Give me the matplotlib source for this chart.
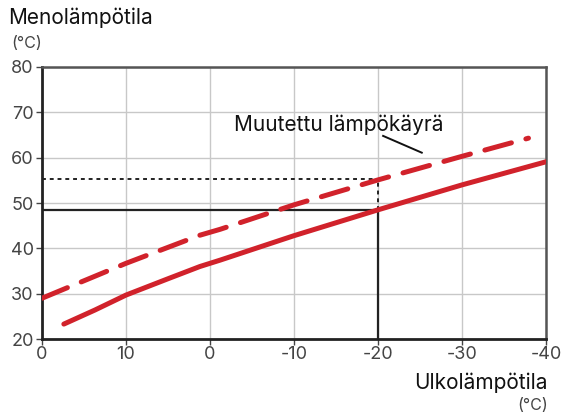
import matplotlib.pyplot as plt

# outdoor temperature (x, reversed) and supply temperature (y)
tick_pos = [20, 10, 0, -10, -20, -30, -40]
tick_labels = ['0', '10', '0', '-10', '-20', '-30', '-40']
y_ticks = [20, 30, 40, 50, 60, 70, 80]

curve_x = [17.4, 13.7, 10, 5, 1.2, -1.2, -10, -20, -30, -40]
curve_y = [23.3, 26.4, 29.7, 33.3, 36.0, 37.4, 42.8, 48.5, 54.0, 59.1]

changed_x = [20, 10, 1.2, -1.2, -10, -20, -30, -37.9]
changed_y = [29.0, 36.7, 42.9, 44.2, 49.6, 55.1, 60.3, 64.3]

sel_x = -20
sel_y = 48.4
sel_y_changed = 55.3

label_line_x = [-20.6, -25.2]
label_line_y = [64.8, 61.1]

RED = '#d1222b'
DARK = '#222222'

plt.rcParams['font.family'] = ['Inter', 'DejaVu Sans']

fig = plt.figure(figsize=(5.63, 4.16), dpi=100)
ax = fig.add_axes([0.0746, 0.185, 0.8954, 0.654])

ax.set_xlim(20, -40)
ax.set_ylim(20, 80)
ax.set_xticks(tick_pos)
ax.set_xticklabels(tick_labels)
ax.set_yticks(y_ticks)
ax.grid(True, color='#c8c8c8', lw=1)
ax.set_axisbelow(True)

for s in ['left', 'bottom']:
    ax.spines[s].set_color(DARK)
    ax.spines[s].set_linewidth(2)
for s in ['top', 'right']:
    ax.spines[s].set_color('#555555')
    ax.spines[s].set_linewidth(1.8)

ax.tick_params(axis='both', labelsize=13, colors='#444444', length=4, width=1, pad=2)
ax.tick_params(axis='x', pad=1)

# selected point guides
ax.plot([20, sel_x], [sel_y, sel_y], color=DARK, lw=1.6)
ax.plot([sel_x, sel_x], [20, sel_y], color=DARK, lw=1.6)
ax.plot([20, sel_x], [sel_y_changed, sel_y_changed], color=DARK, lw=1.4, ls=(0, (2, 2)))
ax.plot([sel_x, sel_x], [sel_y, sel_y_changed], color=DARK, lw=1.4, ls=(0, (2, 2)))

ax.plot(curve_x, curve_y, color=RED, lw=3.6, solid_capstyle='round',
        solid_joinstyle='round', zorder=3)
ax.plot(changed_x, changed_y, color=RED, lw=3.6, ls=(0, (5.5, 3)),
        dash_capstyle='round', zorder=3)

ax.text(-2.9, 67.3, 'Muutettu lämpökäyrä', fontsize=15, color='#111111',
        va='center', ha='left')
ax.plot(label_line_x, label_line_y, color='#111111', lw=1.4)

fig.text(8 / 563, 1 - 18 / 416, 'Menolämpötila', fontsize=15, color='#111111',
         ha='left', va='center')
fig.text(11 / 563, 1 - 44 / 416, '(°C)', fontsize=11.5, color='#444444',
         ha='left', va='center')
fig.text(548 / 563, 1 - 383 / 416, 'Ulkolämpötila', fontsize=15, color='#111111',
         ha='right', va='center')
fig.text(548 / 563, 1 - 405 / 416, '(°C)', fontsize=11.5, color='#444444',
         ha='right', va='center')

fig.savefig('out.png', dpi=100)
